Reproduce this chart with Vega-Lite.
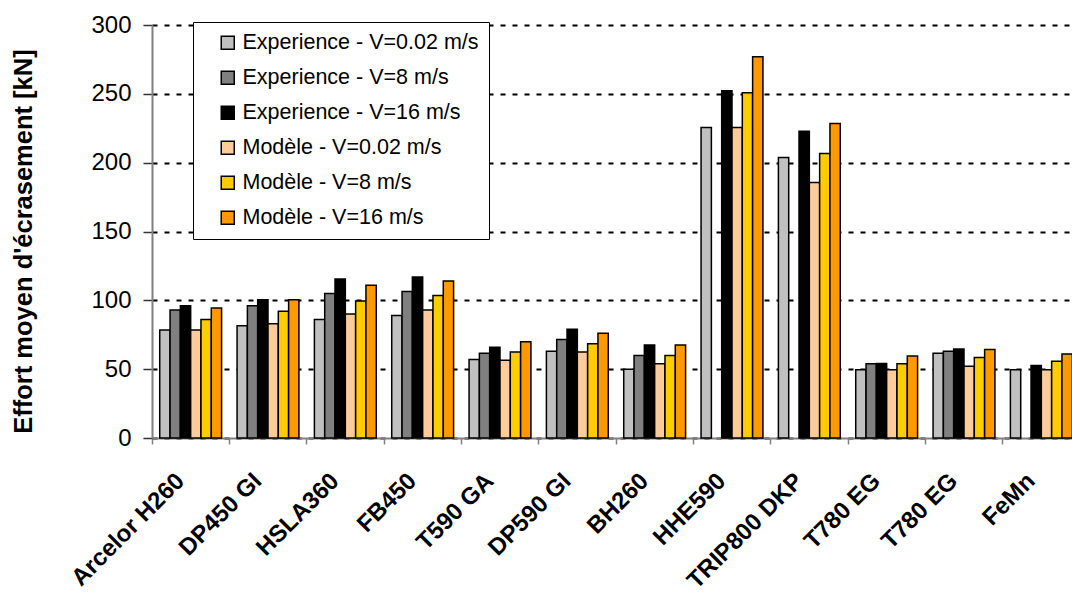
{
  "$schema": "https://vega.github.io/schema/vega-lite/v6.json",
  "width": 920,
  "height": 413,
  "autosize": {"type": "none"},
  "padding": {"left": 152, "top": 25, "right": 0, "bottom": 161},
  "background": "white",
  "config": {"view": {"stroke": null}, "font": "Liberation Sans"},
  "data": {
    "values": [
      {"c": "Arcelor H260", "s": "Experience - V=0.02 m/s", "v": 78.5},
      {"c": "Arcelor H260", "s": "Experience - V=8 m/s", "v": 93},
      {"c": "Arcelor H260", "s": "Experience - V=16 m/s", "v": 96},
      {"c": "Arcelor H260", "s": "Modèle - V=0.02 m/s", "v": 78.5},
      {"c": "Arcelor H260", "s": "Modèle - V=8 m/s", "v": 86},
      {"c": "Arcelor H260", "s": "Modèle - V=16 m/s", "v": 94.5},
      {"c": "DP450 GI", "s": "Experience - V=0.02 m/s", "v": 81.5},
      {"c": "DP450 GI", "s": "Experience - V=8 m/s", "v": 96},
      {"c": "DP450 GI", "s": "Experience - V=16 m/s", "v": 100.5},
      {"c": "DP450 GI", "s": "Modèle - V=0.02 m/s", "v": 83},
      {"c": "DP450 GI", "s": "Modèle - V=8 m/s", "v": 92},
      {"c": "DP450 GI", "s": "Modèle - V=16 m/s", "v": 100.5},
      {"c": "HSLA360", "s": "Experience - V=0.02 m/s", "v": 86},
      {"c": "HSLA360", "s": "Experience - V=8 m/s", "v": 105},
      {"c": "HSLA360", "s": "Experience - V=16 m/s", "v": 115.5},
      {"c": "HSLA360", "s": "Modèle - V=0.02 m/s", "v": 90},
      {"c": "HSLA360", "s": "Modèle - V=8 m/s", "v": 99.5},
      {"c": "HSLA360", "s": "Modèle - V=16 m/s", "v": 111},
      {"c": "FB450", "s": "Experience - V=0.02 m/s", "v": 89},
      {"c": "FB450", "s": "Experience - V=8 m/s", "v": 106.5},
      {"c": "FB450", "s": "Experience - V=16 m/s", "v": 117},
      {"c": "FB450", "s": "Modèle - V=0.02 m/s", "v": 93},
      {"c": "FB450", "s": "Modèle - V=8 m/s", "v": 103.5},
      {"c": "FB450", "s": "Modèle - V=16 m/s", "v": 114},
      {"c": "T590 GA", "s": "Experience - V=0.02 m/s", "v": 57},
      {"c": "T590 GA", "s": "Experience - V=8 m/s", "v": 61.5},
      {"c": "T590 GA", "s": "Experience - V=16 m/s", "v": 66},
      {"c": "T590 GA", "s": "Modèle - V=0.02 m/s", "v": 56.5},
      {"c": "T590 GA", "s": "Modèle - V=8 m/s", "v": 62.5},
      {"c": "T590 GA", "s": "Modèle - V=16 m/s", "v": 70},
      {"c": "DP590 GI", "s": "Experience - V=0.02 m/s", "v": 63},
      {"c": "DP590 GI", "s": "Experience - V=8 m/s", "v": 71.5},
      {"c": "DP590 GI", "s": "Experience - V=16 m/s", "v": 79},
      {"c": "DP590 GI", "s": "Modèle - V=0.02 m/s", "v": 62.5},
      {"c": "DP590 GI", "s": "Modèle - V=8 m/s", "v": 68.5},
      {"c": "DP590 GI", "s": "Modèle - V=16 m/s", "v": 76},
      {"c": "BH260", "s": "Experience - V=0.02 m/s", "v": 50},
      {"c": "BH260", "s": "Experience - V=8 m/s", "v": 60},
      {"c": "BH260", "s": "Experience - V=16 m/s", "v": 67.5},
      {"c": "BH260", "s": "Modèle - V=0.02 m/s", "v": 54},
      {"c": "BH260", "s": "Modèle - V=8 m/s", "v": 60},
      {"c": "BH260", "s": "Modèle - V=16 m/s", "v": 67.5},
      {"c": "HHE590", "s": "Experience - V=0.02 m/s", "v": 225.6},
      {"c": "HHE590", "s": "Experience - V=16 m/s", "v": 252.2},
      {"c": "HHE590", "s": "Modèle - V=0.02 m/s", "v": 225.6},
      {"c": "HHE590", "s": "Modèle - V=8 m/s", "v": 250.7},
      {"c": "HHE590", "s": "Modèle - V=16 m/s", "v": 277},
      {"c": "TRIP800 DKP", "s": "Experience - V=0.02 m/s", "v": 203.7},
      {"c": "TRIP800 DKP", "s": "Experience - V=16 m/s", "v": 222.9},
      {"c": "TRIP800 DKP", "s": "Modèle - V=0.02 m/s", "v": 185.6},
      {"c": "TRIP800 DKP", "s": "Modèle - V=8 m/s", "v": 206.6},
      {"c": "TRIP800 DKP", "s": "Modèle - V=16 m/s", "v": 228.5},
      {"c": "T780 EG", "s": "Experience - V=0.02 m/s", "v": 49.5},
      {"c": "T780 EG", "s": "Experience - V=8 m/s", "v": 54},
      {"c": "T780 EG", "s": "Experience - V=16 m/s", "v": 54.2},
      {"c": "T780 EG", "s": "Modèle - V=0.02 m/s", "v": 49.5},
      {"c": "T780 EG", "s": "Modèle - V=8 m/s", "v": 54},
      {"c": "T780 EG", "s": "Modèle - V=16 m/s", "v": 59.6},
      {"c": "T780 EG#2", "s": "Experience - V=0.02 m/s", "v": 61.6},
      {"c": "T780 EG#2", "s": "Experience - V=8 m/s", "v": 63.1},
      {"c": "T780 EG#2", "s": "Experience - V=16 m/s", "v": 64.6},
      {"c": "T780 EG#2", "s": "Modèle - V=0.02 m/s", "v": 52.2},
      {"c": "T780 EG#2", "s": "Modèle - V=8 m/s", "v": 58.4},
      {"c": "T780 EG#2", "s": "Modèle - V=16 m/s", "v": 64.3},
      {"c": "FeMn", "s": "Experience - V=0.02 m/s", "v": 49.5},
      {"c": "FeMn", "s": "Experience - V=16 m/s", "v": 52.7},
      {"c": "FeMn", "s": "Modèle - V=0.02 m/s", "v": 49.5},
      {"c": "FeMn", "s": "Modèle - V=8 m/s", "v": 55.7},
      {"c": "FeMn", "s": "Modèle - V=16 m/s", "v": 61.1}
    ]
  },
  "mark": {"type": "bar", "stroke": "black", "strokeWidth": 1.5},
  "encoding": {
    "x": {
      "field": "c",
      "type": "nominal",
      "sort": null,
      "scale": {"range": [0, 928], "paddingInner": 0.2, "paddingOuter": 0.1},
      "axis": {
        "title": null,
        "labelExpr": "replace(datum.value, '#2', '')",
        "labelAngle": -45,
        "labelAlign": "right",
        "labelBaseline": "middle",
        "labelFontSize": 24,
        "labelFontWeight": "bold",
        "labelColor": "black",
        "labelPadding": 33,
        "labelOffset": -10,
        "labelLimit": 400,
        "tickSize": 6,
        "tickColor": "#808080",
        "tickWidth": 1.5,
        "bandPosition": -0.125,
        "domainColor": "#808080",
        "domainWidth": 2,
        "grid": false
      }
    },
    "xOffset": {
      "field": "s",
      "type": "nominal",
      "scale": {
        "domain": ["Experience - V=0.02 m/s", "Experience - V=8 m/s", "Experience - V=16 m/s", "Modèle - V=0.02 m/s", "Modèle - V=8 m/s", "Modèle - V=16 m/s"],
        "paddingInner": 0,
        "paddingOuter": 0
      }
    },
    "y": {
      "field": "v",
      "type": "quantitative",
      "scale": {"domain": [0, 300]},
      "axis": {
        "title": "Effort moyen d'écrasement [kN]",
        "titleFontSize": 25.5,
        "titleFontWeight": "bold",
        "titleColor": "black",
        "titleX": -129,
        "titleY": 216,
        "titleAngle": -90,
        "titleAlign": "center",
        "titleBaseline": "middle",
        "values": [0, 50, 100, 150, 200, 250, 300],
        "labelFontSize": 24,
        "labelColor": "black",
        "labelPadding": 12,
        "tickSize": 9,
        "tickColor": "#333333",
        "tickWidth": 1.5,
        "domainColor": "#808080",
        "domainWidth": 2,
        "grid": true,
        "gridColor": "black",
        "gridDash": [5, 7],
        "gridWidth": 2
      }
    },
    "color": {
      "field": "s",
      "type": "nominal",
      "scale": {
        "domain": ["Experience - V=0.02 m/s", "Experience - V=8 m/s", "Experience - V=16 m/s", "Modèle - V=0.02 m/s", "Modèle - V=8 m/s", "Modèle - V=16 m/s"],
        "range": ["#C0C0C0", "#808080", "#000000", "#FFCC99", "#FFCC00", "#FF9900"]
      },
      "legend": {
        "title": null,
        "orient": "none",
        "legendX": 41,
        "legendY": -3,
        "fillColor": "white",
        "strokeColor": "black",
        "padding": 10,
        "symbolType": "square",
        "symbolSize": 169,
        "symbolStrokeColor": "black",
        "symbolStrokeWidth": 1.5,
        "symbolOffset": 14,
        "labelFontSize": 21.5,
        "labelColor": "black",
        "labelOffset": 4,
        "labelLimit": 400,
        "rowPadding": 12
      }
    }
  }
}
